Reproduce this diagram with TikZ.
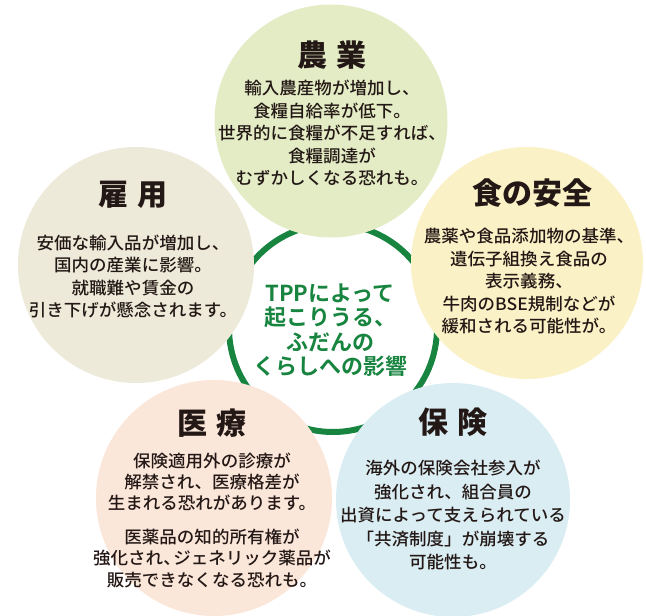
\documentclass[tikz,border=0pt]{standalone}
\usepackage{fontspec}
\setmainfont{Noto Sans CJK JP Medium}[BoldFont={Noto Sans CJK JP Bold}, FakeStretch=1.03]
\newfontfamily\titlefont{Noto Sans CJK JP Black}
\newfontfamily\ctrfont{Noto Sans CJK JP Bold}
\definecolor{cAgri}{HTML}{E3ECC5}
\definecolor{cEmp}{HTML}{EEEAD9}
\definecolor{cFood}{HTML}{FBF1C6}
\definecolor{cMed}{HTML}{FBE6DA}
\definecolor{cIns}{HTML}{DAEDF3}
\definecolor{ringgreen}{HTML}{17843F}
\definecolor{txt}{HTML}{231815}
\newcommand{\tgap}{\hspace{9pt}}
\tikzset{
  bubble/.style={circle, draw=none, inner sep=0pt},
  ttl/.style={font=\titlefont\fontsize{30}{34}\selectfont, text=txt, inner sep=0pt},
  body/.style={font=\fontsize{17}{22.5}\selectfont, text=txt, align=center, inner sep=0pt},
  ctr/.style={font=\ctrfont\fontsize{22}{24.5}\selectfont, text=ringgreen, align=center, inner sep=0pt},
}
\begin{document}
\begin{tikzpicture}[x=1pt,y=-1pt]
\useasboundingbox (0,0) rectangle (646,616);
\fill[white] (0,0) rectangle (646,616);
% ring
\node[circle, draw=ringgreen, line width=6pt, minimum size=208pt, inner sep=0pt] (ring) at (333,328) {};
% bubbles
\node[bubble, fill=cEmp, minimum size=236pt] (emp) at (136,265) {};
\node[bubble, fill=cAgri, minimum size=233pt] (agri) at (331,121) {};
\node[bubble, fill=cFood, minimum size=232pt] (food) at (527,263) {};
\node[bubble, fill=cMed, minimum size=236pt] (med) at (214,498) {};
\node[bubble, fill=cIns, minimum size=234pt] (ins) at (453,500) {};
% titles
\node[ttl] (t1) at (332,55) {農\tgap 業};
\node[ttl] (t2) at (133,195) {雇\tgap 用};
\node[ttl] (t3) at (532,193) {食の安全};
\node[ttl] (t4) at (212,423) {医\tgap 療};
\node[ttl] (t5) at (453,422) {保\tgap 険};
% bodies
\node[body] (b1) at (332,133) {輸入農産物が増加し、\\食糧自給率が低下。\\世界的に食糧が不足すれば、\\食糧調達が\\むずかしくなる恐れも。};
\node[body] (b2) at (133,276.5) {安価な輸入品が増加し、\\国内の産業に影響。\\就職難や賃金の\\引き下げが懸念されます。};
\node[body] (b3) at (529,281.5) {農薬や食品添加物の基準、\\遺伝子組換え食品の\\表示義務、\\牛肉のBSE規制などが\\緩和される可能性が。};
\node[body, font=\fontsize{17}{21}\selectfont] (b4a) at (212,482) {保険適用外の診療が\\解禁され、医療格差が\\生まれる恐れがあります。};
\node[body, font=\fontsize{17}{21.5}\selectfont] (b4b) at (212,558) {医薬品の知的所有権が\\強化され、\kern-0.45em ジェネリック薬品が\\販売できなくなる恐れも。};
\node[body, font=\fontsize{17}{23.5}\selectfont] (b5) at (453,515) {海外の保険会社参入が\\強化され、組合員の\\出資によって支えられている\\「共済制度」が崩壊する\\可能性も。};
% centre
\node[ctr] (c) at (330,330) {TPPによって\\起こりうる、\\ふだんの\\くらしへの影響};
\end{tikzpicture}
\end{document}
